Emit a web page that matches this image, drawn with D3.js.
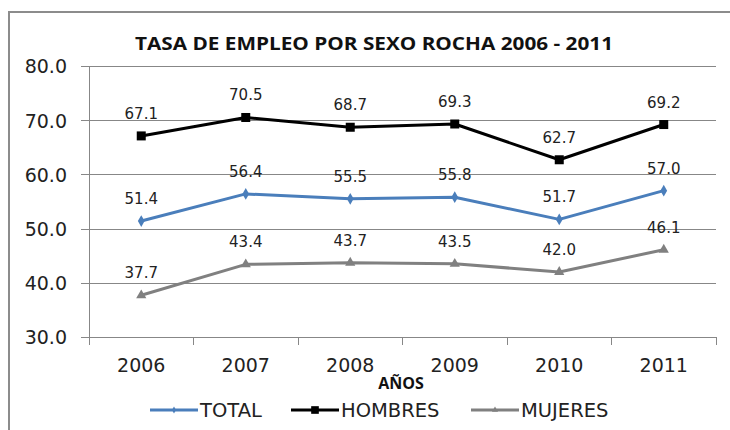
<!DOCTYPE html>
<html>
<head>
<meta charset="utf-8">
<script src="https://cdn.jsdelivr.net/npm/d3@7"></script>
<style>
  body { margin: 0; background: #fff; }
  svg { display: block; }
</style>
</head>
<body>
<div id="chart"></div>
<script>
// data
var years = ["2006", "2007", "2008", "2009", "2010", "2011"];
var total = [51.4, 56.4, 55.5, 55.8, 51.7, 57.0];
var hombres = [67.1, 70.5, 68.7, 69.3, 62.7, 69.2];
var mujeres = [37.7, 43.4, 43.7, 43.5, 42.0, 46.1];
var yTicks = [30, 40, 50, 60, 70, 80];

var series = [
  { name: "TOTAL", values: total, color: "#4a7ebb", marker: "diamond" },
  { name: "HOMBRES", values: hombres, color: "#000000", marker: "square" },
  { name: "MUJERES", values: mujeres, color: "#808080", marker: "triangle" },
];

var W = 730, H = 430;
var plot = { left: 89, right: 716, top: 66, bottom: 337 };
var font = "'DejaVu Sans', sans-serif";

var svg = d3.select("#chart").append("svg").attr("width", W).attr("height", H);

// outer frame (runs off the right / bottom edge)
svg.append("rect")
  .attr("x", 9).attr("y", 12)
  .attr("width", 740).attr("height", 440)
  .attr("fill", "#fff")
  .attr("stroke", "#8c8c8c")
  .attr("stroke-width", 2);

var x = d3.scaleBand().domain(years).range([plot.left, plot.right]);
var y = d3.scaleLinear().domain([30, 80]).range([plot.bottom, plot.top]);

// horizontal grid + y axis labels
var yAxis = d3.axisLeft(y)
  .tickValues(yTicks)
  .tickSize(-(plot.right - plot.left))
  .tickSizeOuter(0)
  .tickFormat(d3.format(".1f"));

var yG = svg.append("g")
  .attr("transform", `translate(${plot.left},0)`)
  .call(yAxis);
yG.select(".domain").remove();
yG.selectAll(".tick line")
  .attr("x1", -8)
  .attr("stroke", "#878787")
  .attr("shape-rendering", "crispEdges");
yG.selectAll(".tick text")
  .attr("font-family", font)
  .attr("font-size", 19)
  .attr("fill", "#222")
  .attr("x", -22)
  .attr("dy", "0.36em");

// y axis line
svg.append("line")
  .attr("x1", plot.left).attr("x2", plot.left)
  .attr("y1", plot.top).attr("y2", plot.bottom + 8)
  .attr("stroke", "#878787")
  .attr("shape-rendering", "crispEdges");

// x axis: ticks at band edges
var xG = svg.append("g")
  .attr("transform", `translate(0,${plot.bottom})`);
xG.append("line")
  .attr("x1", plot.left).attr("x2", plot.right)
  .attr("stroke", "#878787")
  .attr("shape-rendering", "crispEdges");
var edges = years.map((d) => x(d)).concat([x.range()[1]]);
xG.selectAll(".edge")
  .data(edges)
  .enter()
  .append("line")
  .attr("class", "edge")
  .attr("x1", (d) => d).attr("x2", (d) => d)
  .attr("y1", 0).attr("y2", 8)
  .attr("stroke", "#878787")
  .attr("shape-rendering", "crispEdges");
xG.selectAll(".yr")
  .data(years)
  .enter()
  .append("text")
  .attr("x", (d) => x(d) + x.bandwidth() / 2)
  .attr("y", 35)
  .attr("text-anchor", "middle")
  .attr("font-family", font)
  .attr("font-size", 19)
  .attr("fill", "#222")
  .text((d) => d);

// title
svg.append("text")
  .attr("x", 374).attr("y", 50)
  .attr("text-anchor", "middle")
  .attr("font-family", "'Open Sans', sans-serif")
  .attr("font-weight", "bold")
  .attr("font-size", 18.5)
  .attr("fill", "#111")
  .attr("textLength", 478)
  .attr("lengthAdjust", "spacingAndGlyphs")
  .text("TASA DE EMPLEO POR SEXO ROCHA 2006 - 2011");

// x axis title
svg.append("text")
  .attr("x", 401).attr("y", 389)
  .attr("text-anchor", "middle")
  .attr("font-family", "'Open Sans', sans-serif")
  .attr("font-weight", "bold")
  .attr("font-size", 16)
  .attr("fill", "#111")
  .text("AÑOS");

function drawMarker(g, type, color, cx, cy, scale) {
  var s = scale || 1;
  if (type === "square") {
    g.append("rect")
      .attr("x", cx - 4.5 * s).attr("y", cy - 4.5 * s)
      .attr("width", 9 * s).attr("height", 9 * s)
      .attr("fill", color);
  } else if (type === "diamond") {
    g.append("path")
      .attr("d", d3.symbol(d3.symbolDiamond, 40 * s * s)())
      .attr("transform", `translate(${cx},${cy})`)
      .attr("fill", color);
  } else {
    g.append("path")
      .attr("d", d3.symbol(d3.symbolTriangle, 45 * s * s)())
      .attr("transform", `translate(${cx},${cy})`)
      .attr("fill", color);
  }
}

var line = d3.line()
  .x((d, i) => x(years[i]) + x.bandwidth() / 2)
  .y((d) => y(d));

series.forEach(function (s) {
  var g = svg.append("g");
  g.append("path")
    .datum(s.values)
    .attr("d", line)
    .attr("fill", "none")
    .attr("stroke", s.color)
    .attr("stroke-width", 3)
    .attr("stroke-linejoin", "round");
  s.values.forEach(function (v, i) {
    var cx = x(years[i]) + x.bandwidth() / 2;
    drawMarker(g, s.marker, s.color, cx, y(v));
    g.append("text")
      .attr("x", cx)
      .attr("y", y(v) - 17)
      .attr("text-anchor", "middle")
      .attr("font-family", font)
      .attr("font-size", 15)
      .attr("fill", "#222")
      .text(d3.format(".1f")(v));
  });
});

// legend
var legendX = [150, 291, 471];
var leg = svg.append("g");
series.forEach(function (s, i) {
  var lx = legendX[i], ly = 410;
  leg.append("line")
    .attr("x1", lx).attr("x2", lx + 48)
    .attr("y1", ly).attr("y2", ly)
    .attr("stroke", s.color)
    .attr("stroke-width", 3);
  drawMarker(leg, s.marker, s.color, lx + 24, ly, s.marker === "square" ? 0.85 : 0.6);
  leg.append("text")
    .attr("x", lx + 50)
    .attr("y", ly)
    .attr("dy", "0.36em")
    .attr("font-family", font)
    .attr("font-size", 19.5)
    .attr("fill", "#222")
    .text(s.name);
});
</script>
</body>
</html>
